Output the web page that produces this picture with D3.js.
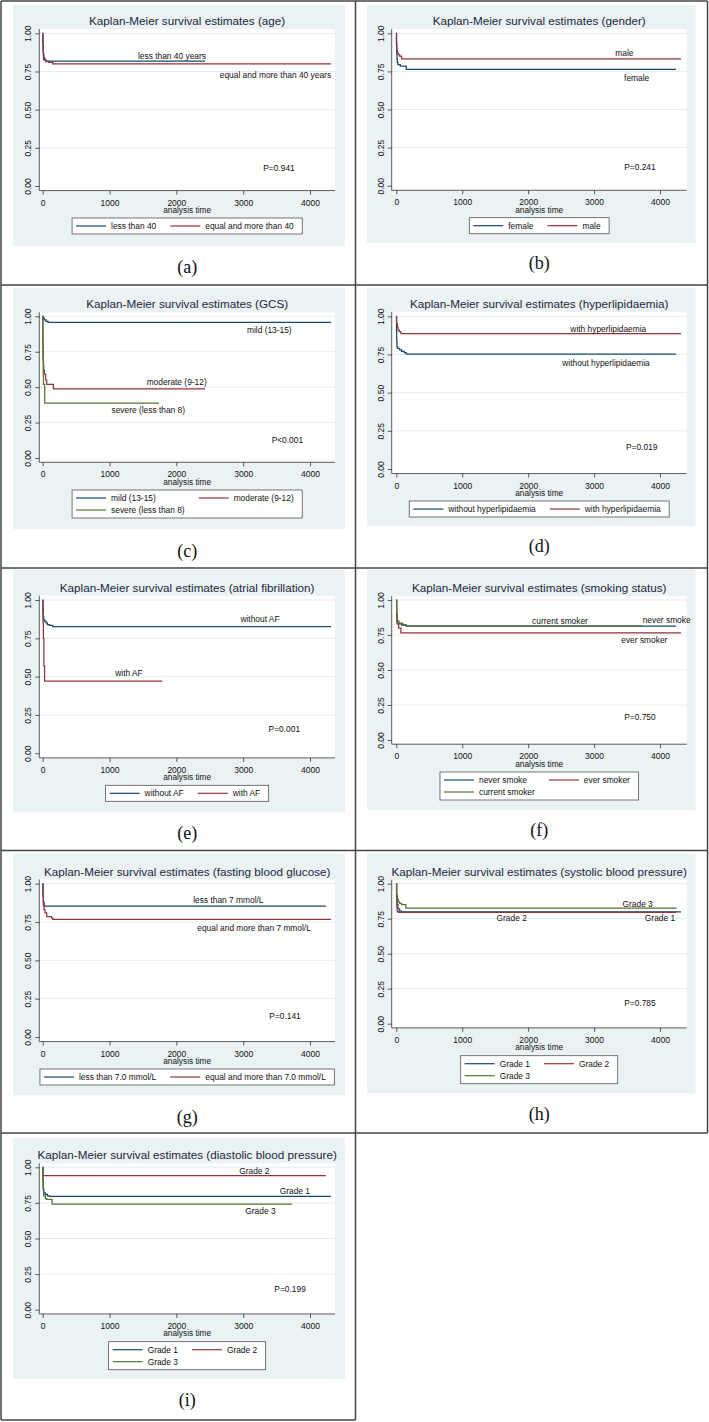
<!DOCTYPE html>
<html><head><meta charset="utf-8">
<script src="https://cdn.jsdelivr.net/npm/d3@7"></script>
<style>body{margin:0;background:#fff}svg{display:block}</style>
</head><body><svg id="chart" width="709" height="1422"></svg>
<script>
// ---------------- DATA ----------------
const xTicks = [0, 1000, 2000, 3000, 4000];
const yTicks = [0, 0.25, 0.5, 0.75, 1];
const yTickLabels = ["0.00", "0.25", "0.50", "0.75", "1.00"];
const xAxisTitle = "analysis time";
const titlePrefix = "Kaplan-Meier survival estimates";

// survival step points [time, survival]
const ageUnder40 = [[0,1],[3,0.93],[7,0.87],[12,0.83],[30,0.825],[50,0.818],[2430,0.818]];
const ageOver40 = [[0,1],[3,0.94],[6,0.89],[10,0.86],[18,0.84],[30,0.825],[45,0.815],[90,0.81],[150,0.799],[4315,0.799]];

const female = [[0,1],[3,0.92],[6,0.87],[10,0.83],[15,0.81],[25,0.795],[60,0.785],[150,0.764],[4243,0.764]];
const male = [[0,1],[3,0.94],[8,0.89],[15,0.87],[30,0.86],[50,0.85],[80,0.833],[4318,0.833]];

const gcsMild = [[0,1],[10,0.985],[25,0.975],[50,0.965],[80,0.958],[4315,0.958]];
const gcsModerate = [[0,1],[2,0.9],[4,0.8],[6,0.72],[10,0.66],[15,0.62],[25,0.59],[45,0.55],[60,0.52],[160,0.487],[2429,0.487]];
const gcsSevere = [[0,1],[2,0.85],[4,0.7],[8,0.58],[12,0.52],[30,0.388],[1740,0.388]];

const withoutHL = [[0,1],[3,0.9],[6,0.84],[10,0.8],[20,0.79],[50,0.78],[80,0.77],[120,0.762],[150,0.753],[4243,0.753]];
const withHL = [[0,1],[5,0.95],[15,0.93],[25,0.91],[45,0.9],[70,0.886],[4318,0.886]];

const withoutAF = [[0,1],[3,0.93],[8,0.89],[15,0.87],[30,0.86],[50,0.85],[70,0.84],[100,0.835],[150,0.826],[4315,0.826]];
const withAF = [[0,1],[5,0.85],[10,0.75],[18,0.57],[28,0.47],[1790,0.47]];

const neverSmoke = [[0,1],[5,0.9],[10,0.85],[25,0.83],[80,0.82],[150,0.814],[4243,0.814]];
const everSmoker = [[0,1],[5,0.9],[12,0.83],[35,0.8],[70,0.766],[4318,0.766]];
const currentSmoker = [[0,1],[5,0.9],[10,0.85],[40,0.835],[100,0.825],[150,0.815],[3731,0.815]];

const fbgUnder7 = [[0,1],[4,0.92],[10,0.88],[20,0.853],[4240,0.853]];
const fbgOver7 = [[0,1],[4,0.92],[10,0.86],[20,0.83],[35,0.81],[60,0.785],[130,0.777],[150,0.768],[4315,0.768]];

const sbpGrade1 = [[0,1],[5,0.9],[12,0.85],[25,0.82],[50,0.805],[80,0.798],[4318,0.798]];
const sbpGrade2 = [[0,1],[4,0.9],[8,0.83],[15,0.8],[30,0.795],[4243,0.795]];
const sbpGrade3 = [[0,1],[5,0.92],[15,0.89],[30,0.87],[50,0.86],[80,0.85],[145,0.826],[4252,0.826]];

const dbpGrade1 = [[0,1],[4,0.9],[8,0.85],[15,0.82],[40,0.81],[70,0.8],[100,0.796],[4313,0.796]];
const dbpGrade2 = [[0,1],[3,0.941],[4236,0.941]];
const dbpGrade3 = [[0,1],[3,0.9],[8,0.84],[15,0.8],[40,0.78],[60,0.775],[140,0.742],[3733,0.742]];

// in-plot text annotations [text, time, survival]
const ageNotes = [["less than 40 years",1935,0.853],["equal and more than 40 years",3483,0.727],["P=0.941",3536,0.118]];
const genderNotes = [["male",3459,0.873],["female",3646,0.709],["P=0.241",3696,0.12]];
const gcsNotes = [["mild (13-15)",3391,0.906],["moderate (9-12)",2005,0.534],["severe (less than 8)",1580,0.336],["P<0.001",3661,0.125]];
const hlNotes = [["with hyperlipidaemia",3216,0.917],["without hyperlipidaemia",3181,0.694],["P=0.019",3722,0.142]];
const afNotes = [["without AF",3252,0.874],["with AF",1291,0.522],["P=0.001",3616,0.157]];
const smokeNotes = [["current smoker",2483,0.85],["never smoke",4101,0.857],["ever smoker",3762,0.714],["P=0.750",3696,0.162]];
const fbgNotes = [["less than 7 mmol/L",2778,0.896],["equal and more than 7 mmol/L",3163,0.711],["P=0.141",3627,0.137]];
const sbpNotes = [["Grade 3",3661,0.857],["Grade 2",1750,0.755],["Grade 1",4000,0.755],["P=0.785",3696,0.15]];
const dbpNotes = [["Grade 2",3167,0.972],["Grade 1",3773,0.831],["Grade 3",3258,0.691],["P=0.199",3702,0.147]];

const panelLabels = ["(a)","(b)","(c)","(d)","(e)","(f)","(g)","(h)","(i)"];

// ---------------- STYLE / LAYOUT ----------------
const NAVY = "#1a476f", MAROON = "#90353b", GREEN = "#55752f";
const SANS = "'Liberation Sans', Arial, sans-serif";
const SERIF = "'Liberation Serif', 'Times New Roman', serif";

const panels = [
  {title:"(age)", series:[["less than 40",NAVY,ageUnder40],["equal and more than 40",MAROON,ageOver40]], notes:ageNotes},
  {title:"(gender)", series:[["female",NAVY,female],["male",MAROON,male]], notes:genderNotes},
  {title:"(GCS)", series:[["mild (13-15)",NAVY,gcsMild],["moderate (9-12)",MAROON,gcsModerate],["severe (less than 8)",GREEN,gcsSevere]], notes:gcsNotes},
  {title:"(hyperlipidaemia)", series:[["without hyperlipidaemia",NAVY,withoutHL],["with hyperlipidaemia",MAROON,withHL]], notes:hlNotes},
  {title:"(atrial fibrillation)", series:[["without AF",NAVY,withoutAF],["with AF",MAROON,withAF]], notes:afNotes},
  {title:"(smoking status)", series:[["never smoke",NAVY,neverSmoke],["ever smoker",MAROON,everSmoker],["current smoker",GREEN,currentSmoker]], notes:smokeNotes},
  {title:"(fasting blood glucose)", series:[["less than 7.0 mmol/L",NAVY,fbgUnder7],["equal and more than 7.0 mmol/L",MAROON,fbgOver7]], notes:fbgNotes},
  {title:"(systolic blood pressure)", series:[["Grade 1",NAVY,sbpGrade1],["Grade 2",MAROON,sbpGrade2],["Grade 3",GREEN,sbpGrade3]], notes:sbpNotes},
  {title:"(diastolic blood pressure)", series:[["Grade 1",NAVY,dbpGrade1],["Grade 2",MAROON,dbpGrade2],["Grade 3",GREEN,dbpGrade3]], notes:dbpNotes}
];

const cols = [
  {bgL:13, bgR:345, axisX:39.3, x0:42.7, x4k:310, right:335},
  {bgL:367, bgR:695.5, axisX:391.7, x0:396.3, x4k:660, right:686.7}
];
const rowsGeo = [
  {col:0, bgT:5, bgB:246, y1:33.3, y0:186, cap:267},
  {col:1, bgT:5, bgB:243, y1:33.3, y0:185.7, cap:263},
  {col:0, bgT:287.7, bgB:529, y1:316.3, y0:458, cap:551},
  {col:1, bgT:287.7, bgB:526.3, y1:316.3, y0:469, cap:546},
  {col:0, bgT:569.7, bgB:812.3, y1:600, y0:753.3, cap:833},
  {col:1, bgT:569.7, bgB:810, y1:600, y0:740, cap:830},
  {col:0, bgT:853.7, bgB:1095.3, y1:883.7, y0:1037, cap:1117},
  {col:1, bgT:853.7, bgB:1093.5, y1:883.7, y0:1023.7, cap:1113.5},
  {col:0, bgT:1138, bgB:1378.7, y1:1167.3, y0:1309.7, cap:1399.5}
];

const svg = d3.select("#chart");
svg.append("rect").attr("width",709).attr("height",1422).attr("fill","#fff");

function textWidth(str, size) {
  const t = svg.append("text").attr("font-family",SANS).attr("font-size",size).text(str);
  const w = t.node().getComputedTextLength();
  t.remove();
  return w;
}

panels.forEach((p, i) => {
  const g = rowsGeo[i], c = cols[g.col];
  const G = svg.append("g");
  G.append("rect").attr("x",c.bgL).attr("y",g.bgT).attr("width",c.bgR-c.bgL).attr("height",g.bgB-g.bgT).attr("fill","#eaf2f3");

  const x = d3.scaleLinear().domain([0,4000]).range([c.x0,c.x4k]);
  const y = d3.scaleLinear().domain([0,1]).range([g.y0,g.y1]);
  const plotTop = y(1.028), axisY = y(-0.03);
  const plotL = c.axisX, plotR = c.right;
  const cx = (plotL + plotR) / 2;

  G.append("rect").attr("x",plotL).attr("y",plotTop).attr("width",plotR-plotL).attr("height",axisY-plotTop).attr("fill","#fff");

  G.selectAll(".grid").data(yTicks.filter(v => v > 0)).enter().append("line")
    .attr("x1",plotL).attr("x2",plotR).attr("y1",d=>y(d)).attr("y2",d=>y(d))
    .attr("stroke","#e2ebee").attr("stroke-width",0.9);

  G.append("text").attr("x",cx).attr("y",g.y1-12).attr("dy","0.35em").attr("text-anchor","middle")
    .attr("font-family",SANS).attr("font-size",11.7).attr("fill","#1c2740").text(titlePrefix + " " + p.title);

  const yAx = G.append("g").attr("transform",`translate(${plotL},0)`)
    .call(d3.axisLeft(y).tickValues(yTicks).tickSize(4).tickFormat((d,k)=>yTickLabels[k]));
  yAx.select(".domain").remove();
  yAx.selectAll(".tick line").attr("stroke","#333").attr("stroke-width",0.8);
  yAx.selectAll(".tick text").attr("font-family",SANS).attr("font-size",8.5).attr("fill","#111")
    .attr("x",0).attr("text-anchor","middle")
    .attr("transform","translate(-11,0) rotate(-90)").attr("dy","0.35em");
  G.append("line").attr("x1",plotL).attr("x2",plotL).attr("y1",plotTop).attr("y2",axisY).attr("stroke","#333").attr("stroke-width",0.8);

  const xAx = G.append("g").attr("transform",`translate(0,${axisY})`)
    .call(d3.axisBottom(x).tickValues(xTicks).tickSize(4).tickFormat(d3.format("d")));
  xAx.select(".domain").remove();
  xAx.selectAll(".tick line").attr("stroke","#333").attr("stroke-width",0.8);
  xAx.selectAll(".tick text").attr("font-family",SANS).attr("font-size",8.5).attr("fill","#111")
    .attr("y",12).attr("dy","0.35em");
  G.append("line").attr("x1",plotL).attr("x2",plotR).attr("y1",axisY).attr("y2",axisY).attr("stroke","#333").attr("stroke-width",0.8);
  G.append("text").attr("x",cx).attr("y",axisY+19.5).attr("dy","0.35em").attr("text-anchor","middle")
    .attr("font-family",SANS).attr("font-size",8.3).attr("fill","#111").text(xAxisTitle);

  const line = d3.line().x(d=>x(d[0])).y(d=>y(d[1])).curve(d3.curveStepAfter);
  p.series.forEach(s => {
    G.append("path").attr("d",line(s[2])).attr("fill","none").attr("stroke",s[1]).attr("stroke-width",1.25);
  });

  p.notes.forEach(n => {
    G.append("text").attr("x",x(n[1])).attr("y",y(n[2])).attr("dy","0.35em").attr("text-anchor","middle")
      .attr("font-family",SANS).attr("font-size",8.4).attr("fill","#111").text(n[0]);
  });

  const n = p.series.length, ncol = 2, nrow = Math.ceil(n/ncol);
  const colW = [];
  for (let k = 0; k < ncol; k++) {
    let m = 0;
    p.series.forEach((s, j) => { if (j % ncol === k) m = Math.max(m, textWidth(s[0], 8.4)); });
    colW.push(30 + 5 + m);
  }
  const contentW = colW.reduce((a,b)=>a+b,0) + 14*(ncol-1);
  const boxW = contentW + 12.5, boxH = 4 + 12*nrow;
  const boxL = cx - boxW/2, boxT = g.y0 + 32;
  G.append("rect").attr("x",boxL).attr("y",boxT).attr("width",boxW).attr("height",boxH)
    .attr("fill","#fff").attr("stroke","#555").attr("stroke-width",0.8);
  p.series.forEach((s, j) => {
    const k = j % ncol, r = Math.floor(j / ncol);
    let lx = boxL + 4;
    for (let q = 0; q < k; q++) lx += colW[q] + 14;
    const ly = boxT + 8 + 12*r;
    G.append("line").attr("x1",lx).attr("x2",lx+30).attr("y1",ly).attr("y2",ly).attr("stroke",s[1]).attr("stroke-width",1.2);
    G.append("text").attr("x",lx+35).attr("y",ly).attr("dy","0.35em").attr("font-family",SANS).attr("font-size",8.4).attr("fill","#111").text(s[0]);
  });

  G.append("text").attr("x",cx).attr("y",g.cap).attr("dy","0.35em").attr("text-anchor","middle")
    .attr("font-family",SERIF).attr("font-size",18).attr("fill","#111").text(panelLabels[i]);
});

const B = svg.append("g").attr("stroke","#444").attr("stroke-width",1.5).attr("fill","none");
const hLines = [[1,1,707.5],[285,1,707.5],[568,1,707.5],[850.5,1,707.5],[1133,1,707.5],[1420,1,355.5]];
hLines.forEach(h => B.append("line").attr("x1",h[1]).attr("x2",h[2]).attr("y1",h[0]).attr("y2",h[0]));
const vLines = [[1,1,1420],[355.5,1,1420],[707.5,1,1133]];
vLines.forEach(v => B.append("line").attr("x1",v[0]).attr("x2",v[0]).attr("y1",v[1]).attr("y2",v[2]));
</script>
</body></html>
